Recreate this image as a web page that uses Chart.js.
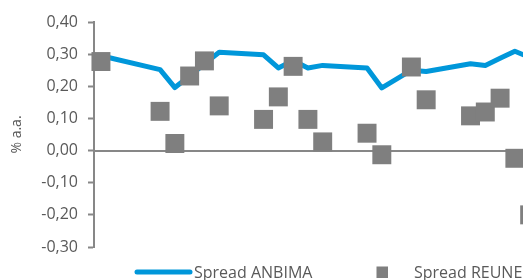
<!DOCTYPE html>
<html>
<head>
<meta charset="utf-8">
<script src="https://cdn.jsdelivr.net/npm/chart.js@4"></script>
<style>
  html, body { margin: 0; padding: 0; background: #fff; }
  #wrap { width: 523px; height: 280px; position: relative; }
</style>
</head>
<body>
<div id="wrap"><canvas id="spreadChart"></canvas></div>
<script>
// -------- DATA --------
// dias corridos a partir da primeira observação
const dias = [0, 4, 5, 6, 7, 8, 11, 12, 13, 14, 15, 18, 19, 21, 22, 25, 26, 27, 28, 29];
const spreadAnbima = [0.295, 0.252, 0.196, 0.232, 0.270, 0.306, 0.298, 0.257, 0.280, 0.257,
                      0.265, 0.257, 0.195, 0.250, 0.246, 0.270, 0.265, 0.287, 0.309, 0.290];
const spreadReune = [0.277, 0.122, 0.022, 0.232, 0.279, 0.139, 0.097, 0.167, 0.262, 0.097,
                     0.027, 0.054, -0.013, 0.260, 0.158, 0.108, 0.120, 0.163, -0.024, -0.200];
const yMin = -0.30, yMax = 0.40, yStep = 0.10;
const yTitle = "% a.a.";

const FONT = "'Open Sans', 'Noto Sans', sans-serif";
const TEXT = "#595959";
const AXIS = "#878787";
const BLUE = "#0097DA";
const GREY = "#7F7F7F";

// -------- LEGEND (Excel style) --------
const excelLegend = {
    id: "excelLegend",
    afterDraw(chart) {
        const ctx = chart.ctx;
        const [line, pts] = chart.data.datasets;
        const y = 272;
        ctx.save();
        ctx.font = "16px " + FONT;
        ctx.fillStyle = TEXT;
        ctx.textBaseline = "middle";

        ctx.strokeStyle = line.borderColor;
        ctx.lineWidth = 5;
        ctx.lineCap = "round";
        ctx.beginPath();
        ctx.moveTo(137, y);
        ctx.lineTo(190, y);
        ctx.stroke();
        ctx.fillText(line.label, 194, y + 1);

        ctx.fillStyle = pts.backgroundColor;
        ctx.fillRect(376.5, y - 5.5, 11.5, 11.5);
        ctx.fillStyle = TEXT;
        ctx.fillText(pts.label, 414, y + 1);
        ctx.restore();
    }
};

const ctx = document.getElementById("spreadChart").getContext("2d");

new Chart(ctx, {
    type: "scatter",
    data: {
        datasets: [
            {
                type: "line",
                label: "Spread ANBIMA",
                data: dias.map((d, i) => ({ x: d, y: spreadAnbima[i] })),
                borderColor: BLUE,
                backgroundColor: BLUE,
                borderWidth: 5,
                borderJoinStyle: "round",
                borderCapStyle: "round",
                pointRadius: 0,
                tension: 0,
                clip: false,
                order: 2
            },
            {
                label: "Spread REUNE",
                data: dias.map((d, i) => ({ x: d, y: spreadReune[i] })),
                backgroundColor: GREY,
                borderWidth: 0,
                pointStyle: "rect",
                pointRadius: 13.4,
                clip: false,
                order: 1
            }
        ]
    },
    options: {
        responsive: true,
        maintainAspectRatio: false,
        animation: false,
        events: [],
        layout: { autoPadding: false, padding: { top: 22, bottom: 33, left: 0, right: 0 } },
        scales: {
            x: {
                type: "linear",
                position: { y: 0 },
                min: -0.47,
                max: 28.55,
                grid: { display: false },
                ticks: { display: false },
                border: { display: true, color: AXIS, width: 2 }
            },
            y: {
                min: yMin,
                max: yMax,
                afterFit: scale => { scale.width = 94; },
                ticks: {
                    stepSize: yStep,
                    color: TEXT,
                    padding: 10,
                    font: { family: FONT, size: 16 },
                    callback: v => v.toFixed(2).replace(".", ",")
                },
                grid: {
                    display: true,
                    drawOnChartArea: false,
                    drawTicks: true,
                    tickLength: 6,
                    tickColor: AXIS,
                    tickWidth: 2
                },
                border: { display: true, color: AXIS, width: 2 },
                title: {
                    display: true,
                    text: yTitle,
                    color: TEXT,
                    font: { family: FONT, size: 14 },
                    padding: { top: 9, bottom: 0 }
                }
            }
        },
        plugins: {
            legend: { display: false },
            tooltip: { enabled: false }
        }
    },
    plugins: [excelLegend]
});
</script>
</body>
</html>
